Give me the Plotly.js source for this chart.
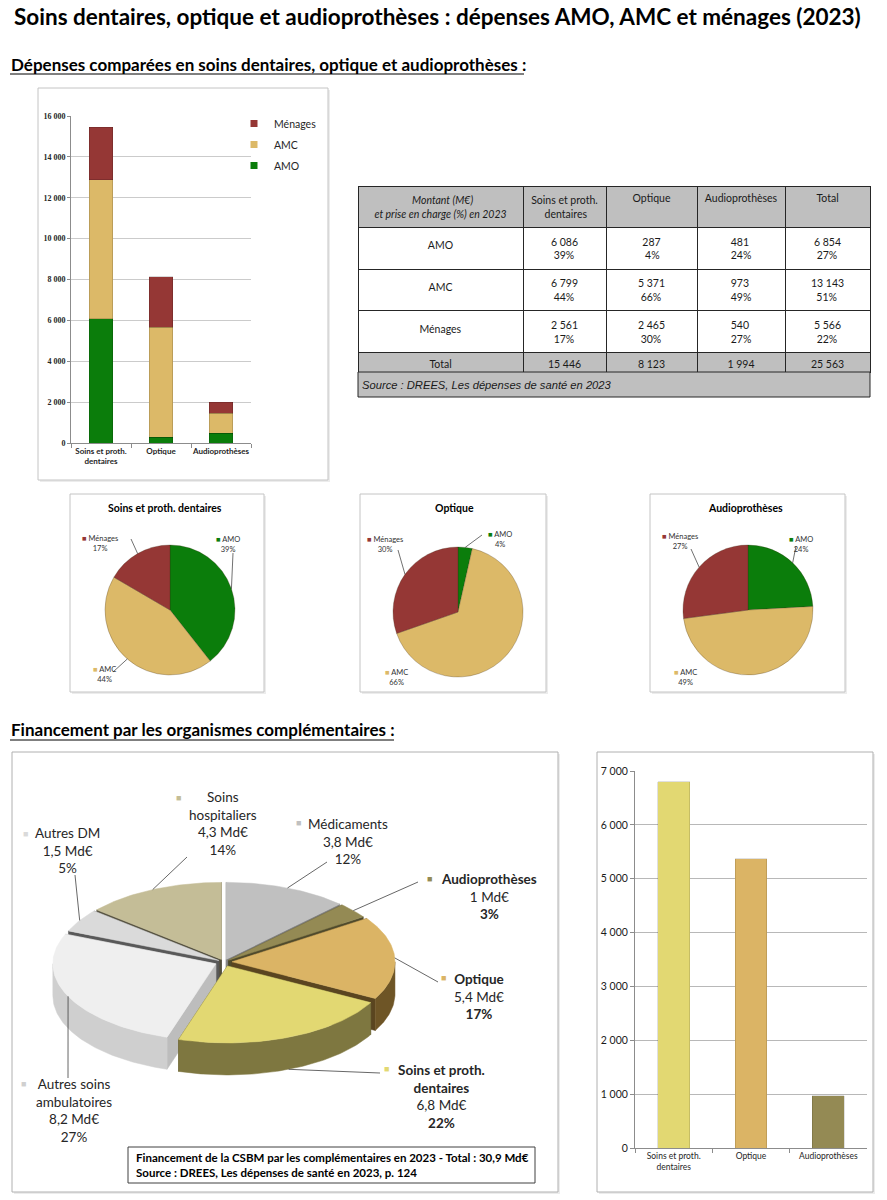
<!DOCTYPE html>
<html><head><meta charset="utf-8">
<script src="https://cdn.plot.ly/plotly-3.0.1.min.js"></script>
<style>html,body{margin:0;padding:0;background:#fff}#g{width:887px;height:1200px}</style>
</head><body><div id="g"></div>
<script>
// ================= DATA =================
const categories = ['Soins et proth.<br>dentaires', 'Optique', 'Audioprothèses'];
const pieTitles = ['Soins et proth. dentaires', 'Optique', 'Audioprothèses'];
const financeurs = ['AMO', 'AMC', 'Ménages'];
const amo = [6086, 287, 481];
const amc = [6799, 5371, 973];
const menages = [2561, 2465, 540];
const rowTotals = [6854, 13143, 5566];          // AMO, AMC, Ménages
const colTotals = [15446, 8123, 1994, 25563];   // incl. grand total
const amoPct = [39, 4, 24, 27];
const amcPct = [44, 66, 49, 51];
const menPct = [17, 30, 27, 22];
const tableHeader = ['<i>Montant (M€)<br>et prise en charge (%) en 2023</i>', 'Soins et proth.<br>dentaires', 'Optique', 'Audioprothèses', 'Total'];
const tableRowNames = ['AMO', 'AMC', 'Ménages', 'Total'];
const tableSource = 'Source : DREES, Les dépenses de santé en 2023';

const ocLabels = ['Médicaments', 'Audioprothèses', 'Optique', 'Soins et proth.<br>dentaires', 'Autres soins<br>ambulatoires', 'Autres DM', 'Soins<br>hospitaliers'];
const ocValues = [3.8, 1.0, 5.4, 6.8, 8.2, 1.5, 4.3];   // Md€
const ocPct = [12, 3, 17, 22, 27, 5, 14];
const ocBold = [false, true, true, true, false, false, false];
const ocNote = 'Financement de la CSBM par les complémentaires en 2023 - Total : 30,9 Md€<br>Source : DREES, Les dépenses de santé en 2023, p. 124';

// ================= STYLE =================
const W = 887, H = 1200;
const X = p => p / W;
const Y = p => 1 - p / H;
const fmt = n => String(n).replace(/\B(?=(\d{3})+(?!\d))/g, '\u00a0');
const frNum = v => Number.isInteger(v) ? String(v) : v.toFixed(1).replace('.', ',');
const C = {amo: '#0b7d0b', amc: '#dcb968', men: '#953735'};
const finColors = [C.amo, C.amc, C.men];
const focusColors = ['#e2d872', '#dbb465', '#948a54'];
const ocTop  = ['#c0c0c0', '#948a54', '#dbb465', '#e2d872', '#efefef', '#dadada', '#c4bd97'];
const ocSide = ['#9a9a9a', '#6a6339', '#6e5526', '#7e7740', '#cfcfcf', '#b0b0b0', '#9a9473'];
const ocWall = ['#7f7f7f', '#4f4a2c', '#5a4520', '#4f4a24', '#bdbdbd', '#595959', '#55513f'];
const ocExplode = [6, 6, 8, 9, 9, 6, 6];
const PIE = {cx: 224, cy: 962, rx: 163, ry: 77, depth: 32};
const ocLabelPos = [[348, 841], [489, 896], [479, 996], [441, 1096], [74, 1110], [67, 851], [223, 823]];
const ocMarkerPos = [[298, 822], [429, 878], [443, 978], [386, 1068], [23, 1083], [25, 833], [178, 797]];
const ocLeadFrom = [[327, 862], [418, 882], [438, 982], [380, 1073], [68, 1078], [75, 875], [187, 857]];
const ocLeadDrop = [0, 0, 0, 1, 0, 0, 0];

const smallPies = [
  {cx: 170, cy: 610, r: 65, tx: 165, lab: [[228, 545], [104, 674], [100, 543]], lead: [[233, 553], [113, 672], [131, 539]]},
  {cx: 458, cy: 612, r: 65, tx: 455, lab: [[500, 539], [396, 678], [385, 544]], lead: [[482, 535], null, [398, 550]]},
  {cx: 748, cy: 610, r: 65, tx: 745, lab: [[801, 544], [685, 678], [680, 541]], lead: [[796, 546], null, [691, 549]]}
];

// centre each line of a multi-line table cell (Plotly left-aligns lines inside a block)
const cv = document.createElement('canvas').getContext('2d');
function centerLines(text, font) {
  const lines = text.split('<br>');
  const strip = s => s.replace(/<[^>]+>/g, '');
  cv.font = font;
  const ws = lines.map(l => cv.measureText(strip(l)).width);
  const sp = cv.measureText('\u00a0').width || 2.5;
  const mx = Math.max(...ws);
  return lines.map((l, i) => '\u00a0'.repeat(Math.max(0, Math.round((mx - ws[i]) / 2 / sp))) + l).join('<br>');
}

const traces = [];
const shapes = [];
const annotations = [];

// ---------- boxes ----------
function box(x0, y0, x1, y1, col) {
  shapes.push({type: 'rect', xref: 'paper', yref: 'paper', x0: X(x0 + 2), x1: X(x1 + 2), y0: Y(y0 + 2), y1: Y(y1 + 2), line: {width: 0}, fillcolor: '#ececec', layer: 'below'});
  shapes.push({type: 'rect', xref: 'paper', yref: 'paper', x0: X(x0), x1: X(x1), y0: Y(y0), y1: Y(y1), line: {color: col || '#c4c4c4', width: 1}, fillcolor: '#ffffff', layer: 'below'});
}
box(38, 88, 328, 480);
box(70, 494, 264, 692);
box(360, 494, 546, 692);
box(650, 494, 845, 692);
box(12, 752, 558, 1192, '#b0b0b0');
box(597, 752, 873, 1192, '#b0b0b0');

function line(pts, col, w) {
  const d = pts.map((p, i) => (i ? 'L' : 'M') + X(p[0]) + ',' + Y(p[1])).join(' ');
  shapes.push({type: 'path', xref: 'paper', yref: 'paper', path: d, line: {color: col || '#404040', width: w || 0.8}});
}

// ---------- titles ----------
annotations.push({xref: 'paper', yref: 'paper', x: X(437), y: Y(17), xanchor: 'center', yanchor: 'middle', showarrow: false,
  text: '<b>Soins dentaires, optique et audioprothèses : dépenses AMO, AMC et ménages (2023)</b>', font: {size: 22.5, color: '#000'}});
annotations.push({xref: 'paper', yref: 'paper', x: X(9), y: Y(64), xanchor: 'left', yanchor: 'middle', showarrow: false,
  text: '<b>Dépenses comparées en soins dentaires, optique et audioprothèses :</b>', font: {size: 17, color: '#000'}});
annotations.push({xref: 'paper', yref: 'paper', x: X(9), y: Y(730), xanchor: 'left', yanchor: 'middle', showarrow: false,
  text: '<b>Financement par les organismes complémentaires :</b>', font: {size: 17, color: '#000'}});
shapes.push({type: 'line', xref: 'paper', yref: 'paper', x0: X(10), x1: X(524), y0: Y(74), y1: Y(74), line: {color: '#000', width: 1}});
shapes.push({type: 'line', xref: 'paper', yref: 'paper', x0: X(10), x1: X(394), y0: Y(740), y1: Y(740), line: {color: '#000', width: 1}});

// ---------- chart 1 : stacked bars ----------
[[financeurs[0], amo, C.amo], [financeurs[1], amc, C.amc], [financeurs[2], menages, C.men]].forEach(([name, vals, col]) => {
  traces.push({type: 'bar', name, x: categories, y: vals, xaxis: 'x', yaxis: 'y', width: 0.39,
    marker: {color: col, line: {color: 'rgba(0,0,0,0.25)', width: 0.6}}, showlegend: false, hoverinfo: 'skip'});
});
[[financeurs[2], C.men], [financeurs[1], C.amc], [financeurs[0], C.amo]].forEach(([name, col]) => {
  traces.push({type: 'scatter', mode: 'markers', name, x: [null], y: [null], xaxis: 'x', yaxis: 'y',
    marker: {symbol: 'square', size: 7, color: col}, showlegend: true, legendgroup: name, hoverinfo: 'skip'});
});

// ---------- chart 2 : AMC bars ----------
traces.push({type: 'bar', x: categories, y: amc, xaxis: 'x2', yaxis: 'y2', width: 0.41,
  marker: {color: focusColors, line: {color: 'rgba(0,0,0,0.2)', width: 0.6}}, showlegend: false, hoverinfo: 'skip'});

// ---------- small pies ----------
const pctByFin = [amoPct, amcPct, menPct];
smallPies.forEach((p, k) => {
  const vals = [amo[k], amc[k], menages[k]];
  traces.push({type: 'pie', values: vals, labels: financeurs, sort: false, direction: 'clockwise', rotation: 0,
    textinfo: 'none', hoverinfo: 'skip', showlegend: false,
    marker: {colors: finColors, line: {color: 'rgba(60,40,20,0.45)', width: 0.6}},
    domain: {x: [X(p.cx - p.r), X(p.cx + p.r)], y: [Y(p.cy + p.r), Y(p.cy - p.r)]}});
  annotations.push({xref: 'paper', yref: 'paper', x: X(p.tx), y: Y(508), showarrow: false, xanchor: 'center', yanchor: 'middle',
    text: '<b>' + pieTitles[k] + '</b>', font: {size: 10.5, color: '#000'}});
  const tot = vals.reduce((a, b) => a + b, 0);
  let acc = 0;
  vals.forEach((v, j) => {
    const mid = (acc + v / 2) / tot * 2 * Math.PI; acc += v;
    annotations.push({xref: 'paper', yref: 'paper', x: X(p.lab[j][0]), y: Y(p.lab[j][1]), showarrow: false, xanchor: 'center', yanchor: 'middle',
      text: '<span style="color:' + finColors[j] + '">■</span> ' + financeurs[j] + '<br>' + pctByFin[j][k] + '%', font: {size: 7.5, color: '#333'}});
    if (p.lead[j]) {
      line([p.lead[j], [p.cx + p.r * Math.sin(mid), p.cy - p.r * Math.cos(mid)]], '#333', 0.7);
    }
  });
});

// ---------- table ----------
const TF = '10.5px Lato';
const amoCol = amo.concat([rowTotals[0]]);
const amcCol = amc.concat([rowTotals[1]]);
const menCol = menages.concat([rowTotals[2]]);
const cellCols = [tableRowNames.map((n, r) => r < 3 ? '<br>' + n : n)];
for (let j = 0; j < 4; j++) {
  cellCols.push([
    centerLines(fmt(amoCol[j]) + '<br>' + amoPct[j] + '%', TF),
    centerLines(fmt(amcCol[j]) + '<br>' + amcPct[j] + '%', TF),
    centerLines(fmt(menCol[j]) + '<br>' + menPct[j] + '%', TF),
    fmt(colTotals[j])
  ]);
}
const headerVals = tableHeader.map((h, j) => centerLines(h, (j === 0 ? 'italic ' : '') + TF));
const rowFill = ['#ffffff', '#ffffff', '#ffffff', '#bfbfbf'];
traces.push({type: 'table', domain: {x: [X(358), X(870)], y: [Y(400), Y(186)]},
  columnwidth: [165, 83, 91, 88, 85],
  header: {values: headerVals, align: 'center', height: 37, fill: {color: '#bfbfbf'}, line: {color: '#262626', width: 1},
    font: {family: 'Lato', size: 10.5, color: '#1a1a1a'}},
  cells: {values: cellCols, align: 'center', height: 20, fill: {color: cellCols.map(() => rowFill)}, line: {color: '#262626', width: 1},
    font: {family: 'Lato', size: 10.5, color: '#1a1a1a'}}
});
shapes.push({type: 'rect', xref: 'paper', yref: 'paper', x0: X(358), x1: X(870), y0: Y(397), y1: Y(372), fillcolor: '#bfbfbf', line: {color: '#262626', width: 1}});
annotations.push({xref: 'paper', yref: 'paper', x: X(360), y: Y(385), xanchor: 'left', yanchor: 'middle', showarrow: false,
  text: '<i>' + tableSource + '</i>', font: {family: 'Liberation Sans', size: 11.2, color: '#1a1a1a'}});

// ---------- big 3D pie (complementary organisations) ----------
const ocTot = ocValues.reduce((a, b) => a + b, 0);
const rad = d => d * Math.PI / 180;
function P(theta, off, drop) {
  const t = rad(theta);
  return [PIE.cx + off[0] + PIE.rx * Math.sin(t), PIE.cy + off[1] - PIE.ry * Math.cos(t) + (drop || 0)];
}
let accA = 0;
const slices = ocValues.map((v, i) => {
  const a0 = accA / ocTot * 360; accA += v; const a1 = accA / ocTot * 360;
  const mid = (a0 + a1) / 2, m = rad(mid), e = ocExplode[i];
  return {i, a0, a1, mid, off: [e * Math.sin(m), -e * Math.cos(m) * PIE.ry / PIE.rx]};
});
function poly(pts, color) {
  traces.push({type: 'scatter', mode: 'lines', x: pts.map(p => p[0]).concat([pts[0][0]]), y: pts.map(p => p[1]).concat([pts[0][1]]),
    xaxis: 'x3', yaxis: 'y3', fill: 'toself', fillcolor: color, line: {color: color, width: 0.5}, hoverinfo: 'skip', showlegend: false});
}
slices.slice().sort((a, b) => (-Math.cos(rad(a.mid))) - (-Math.cos(rad(b.mid)))).forEach(s => {
  const c = [PIE.cx + s.off[0], PIE.cy + s.off[1]];
  const d = PIE.depth;
  [s.a0, s.a1].forEach(a => {
    const o = P(a, s.off);
    poly([c, o, [o[0], o[1] + d], [c[0], c[1] + d]], ocWall[s.i]);
  });
  const f0 = Math.max(s.a0, 90), f1 = Math.min(s.a1, 270);
  if (f1 > f0) {
    const topArc = [], botArc = [];
    const n = Math.max(2, Math.ceil(f1 - f0));
    for (let k = 0; k <= n; k++) { const a = f0 + (f1 - f0) * k / n; topArc.push(P(a, s.off)); botArc.push(P(a, s.off, d)); }
    poly(topArc.concat(botArc.reverse()), ocSide[s.i]);
  }
  const top = [c];
  const n = Math.max(2, Math.ceil(s.a1 - s.a0));
  for (let k = 0; k <= n; k++) top.push(P(s.a0 + (s.a1 - s.a0) * k / n, s.off));
  poly(top, ocTop[s.i]);
});
// labels & leader lines
slices.forEach(s => {
  const i = s.i;
  const tip = P(s.mid, s.off, ocLeadDrop[i] * PIE.depth);
  line([ocLeadFrom[i], tip], '#404040', 0.8);
  const name = ocBold[i] ? '<b>' + ocLabels[i] + '</b>' : ocLabels[i];
  const pct = ocBold[i] ? '<b>' + ocPct[i] + '%</b>' : ocPct[i] + '%';
  annotations.push({xref: 'paper', yref: 'paper', x: X(ocLabelPos[i][0]), y: Y(ocLabelPos[i][1]), xanchor: 'center', yanchor: 'middle', showarrow: false,
    align: 'center', text: name + '<br>' + frNum(ocValues[i]) + ' Md€<br>' + pct, font: {size: 13.5, color: '#262626'}});
  annotations.push({xref: 'paper', yref: 'paper', x: X(ocMarkerPos[i][0]), y: Y(ocMarkerPos[i][1]), xanchor: 'center', yanchor: 'middle', showarrow: false,
    text: '■', font: {size: 9, color: ocTop[i] === '#efefef' ? '#d0d0d0' : ocTop[i]}});
});
shapes.push({type: 'rect', xref: 'paper', yref: 'paper', x0: X(128), x1: X(535), y0: Y(1183), y1: Y(1147), line: {color: '#404040', width: 1}, fillcolor: '#ffffff'});
annotations.push({xref: 'paper', yref: 'paper', x: X(134), y: Y(1165), xanchor: 'left', yanchor: 'middle', showarrow: false, align: 'left',
  text: '<b>' + ocNote.replace('<br>', '</b><br><b>') + '</b>', font: {size: 11.5, color: '#000'}});

// ================= LAYOUT =================
const axFont = {family: 'Lato', size: 8, color: '#262626', weight: 'bold'};
const layout = {
  width: W, height: H, margin: {l: 0, r: 0, t: 0, b: 0},
  paper_bgcolor: '#ffffff', plot_bgcolor: 'rgba(0,0,0,0)',
  font: {family: 'Lato, sans-serif', color: '#262626'},
  separators: ', ',
  barmode: 'stack',
  showlegend: true,
  legend: {x: X(234), y: Y(109), xanchor: 'left', yanchor: 'top', bgcolor: 'rgba(0,0,0,0)', font: {size: 10.5, color: '#262626'}, tracegroupgap: 2},
  xaxis: {domain: [X(71), X(251)], range: [-0.5, 2.5], type: 'category', anchor: 'y', showline: true, linecolor: '#8c8c8c', ticks: 'outside', tickson: 'boundaries',
    ticklen: 4, tickcolor: '#8c8c8c', tickfont: axFont, tickangle: 0, showgrid: false, fixedrange: true},
  yaxis: {domain: [Y(443), Y(116)], range: [0, 16000], dtick: 2000, tickformat: ',d', anchor: 'x', showline: true, linecolor: '#8c8c8c', ticks: 'outside', ticklen: 3,
    tickcolor: '#8c8c8c', gridcolor: '#cbcbcb', zeroline: false, tickfont: {family: 'Liberation Serif', size: 8, weight: 'bold', color: '#262626'}, fixedrange: true},
  xaxis2: {domain: [X(635), X(867)], range: [-0.5, 2.5], type: 'category', anchor: 'y2', showline: true, linecolor: '#8c8c8c', ticks: 'outside', tickson: 'boundaries',
    ticklen: 4, tickcolor: '#8c8c8c', tickfont: {family: 'Lato', size: 8.5, color: '#262626'}, tickangle: 0, showgrid: false, fixedrange: true},
  yaxis2: {domain: [Y(1148), Y(771)], range: [0, 7000], dtick: 1000, tickformat: ',d', anchor: 'x2', showline: true, linecolor: '#8c8c8c', ticks: 'outside', ticklen: 4,
    tickcolor: '#8c8c8c', gridcolor: '#b8b8b8', zeroline: false, tickfont: {family: 'Lato', size: 10.5, color: '#1a1a1a'}, fixedrange: true},
  xaxis3: {domain: [X(12), X(558)], range: [12, 558], anchor: 'y3', visible: false, fixedrange: true},
  yaxis3: {domain: [Y(1192), Y(752)], range: [1192, 752], anchor: 'x3', visible: false, fixedrange: true},
  shapes, annotations
};
Plotly.newPlot('g', traces, layout, {displayModeBar: false, staticPlot: true});
</script></body></html>
